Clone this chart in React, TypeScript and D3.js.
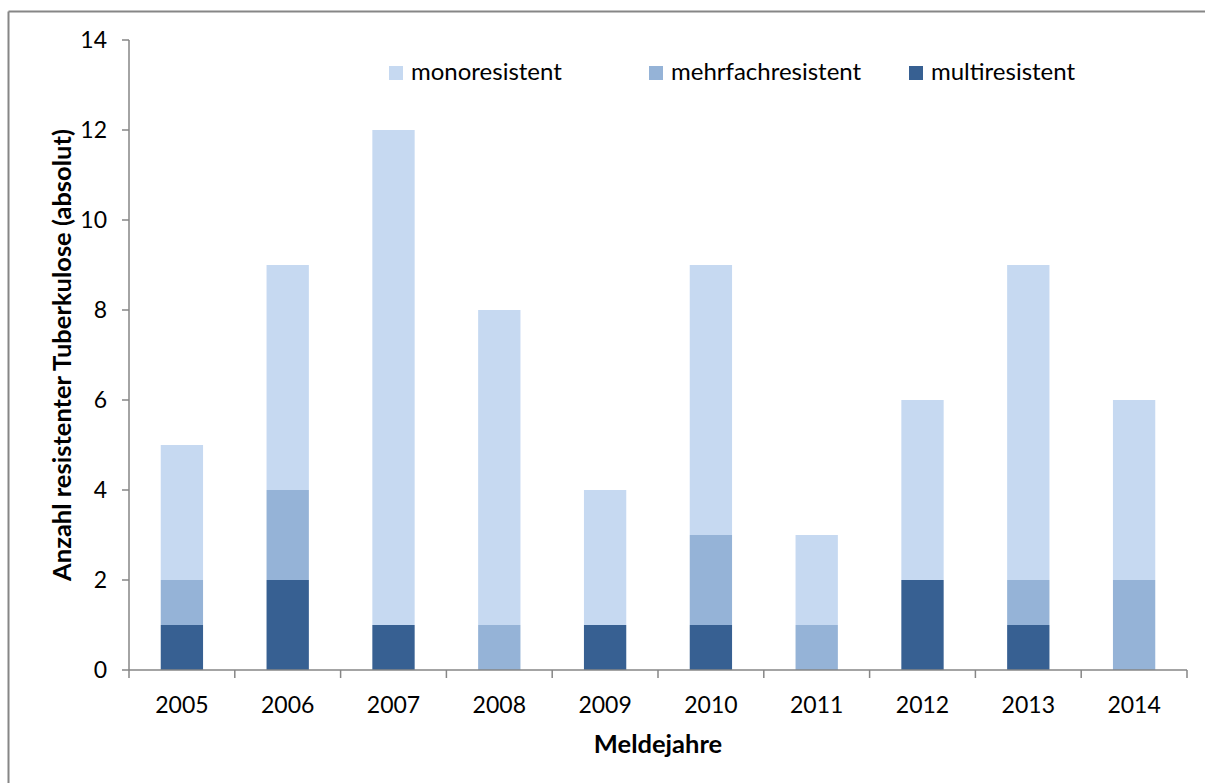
import React from "react";
import * as d3 from "d3";

const years = ["2005", "2006", "2007", "2008", "2009", "2010", "2011", "2012", "2013", "2014"];
const multiresistent = [1, 2, 1, 0, 1, 1, 0, 2, 1, 0];
const mehrfachresistent = [1, 2, 0, 1, 0, 2, 1, 0, 1, 2];
const monoresistent = [3, 5, 11, 7, 3, 6, 2, 4, 7, 4];
const yTicks = [0, 2, 4, 6, 8, 10, 12, 14];

const seriesKeys = ["multiresistent", "mehrfachresistent", "monoresistent"];
const colors: Record<string, string> = {
  monoresistent: "#C6D9F1",
  mehrfachresistent: "#95B3D7",
  multiresistent: "#376092",
};
const legendOrder = ["monoresistent", "mehrfachresistent", "multiresistent"];

const FONT = "Lato, 'Open Sans', sans-serif";

export default function App() {
  const W = 1205, H = 783;
  const x0 = 129, x1 = 1187, yTop = 40, yBot = 670;
  const rows = years.map((y, i) => ({
    year: y,
    multiresistent: multiresistent[i],
    mehrfachresistent: mehrfachresistent[i],
    monoresistent: monoresistent[i],
  }));
  const stack = d3.stack<any>().keys(seriesKeys)(rows);
  const x = d3.scaleBand().domain(years).range([x0, x1]).paddingInner(0.6).paddingOuter(0.3);
  const y = d3.scaleLinear().domain([0, 14]).range([yBot, yTop]);
  const step = (x1 - x0) / years.length;
  const axisColor = "#868686";

  return (
    <svg width={W} height={H} style={{ position: "absolute", left: 0, top: 0, overflow: "hidden", display: "block" }}>
      <rect x={0} y={0} width={W} height={H} fill="#fff" />
      <line x1={8.5} x2={W} y1={11.5} y2={11.5} stroke={axisColor} strokeWidth={2} />
      <line x1={8.5} x2={8.5} y1={11.5} y2={H} stroke={axisColor} strokeWidth={2} />
      {stack.map((s) => (
        <g key={s.key} fill={colors[s.key]}>
          {s.map((d, i) =>
            d[1] - d[0] > 0 ? (
              <rect
                key={i}
                x={x(years[i])}
                width={x.bandwidth()}
                y={y(d[1])}
                height={y(d[0]) - y(d[1])}
              />
            ) : null
          )}
        </g>
      ))}
      {/* y axis */}
      <line x1={x0} x2={x0} y1={yTop} y2={yBot} stroke={axisColor} strokeWidth={1.5} />
      {yTicks.map((t) => (
        <g key={t}>
          <line x1={x0 - 7} x2={x0} y1={y(t)} y2={y(t)} stroke={axisColor} strokeWidth={1.5} />
          <text x={107} y={y(t)} dy="0.36em" textAnchor="end" fontFamily={FONT} fontSize={23} fill="#000">
            {t}
          </text>
        </g>
      ))}
      {/* x axis */}
      <line x1={x0} x2={x1} y1={yBot} y2={yBot} stroke={axisColor} strokeWidth={1.5} />
      {d3.range(years.length + 1).map((i) => (
        <line key={i} x1={x0 + i * step} x2={x0 + i * step} y1={yBot} y2={yBot + 8} stroke={axisColor} strokeWidth={1.5} />
      ))}
      {years.map((yr) => (
        <text key={yr} x={(x(yr) as number) + x.bandwidth() / 2} y={713} textAnchor="middle" fontFamily={FONT} fontSize={23} fill="#000">
          {yr}
        </text>
      ))}
      <text x={(x0 + x1) / 2} y={753} textAnchor="middle" fontFamily={FONT} fontSize={25.5} fontWeight="bold" fill="#000">
        Meldejahre
      </text>
      <text
        transform={`translate(71, ${(yTop + yBot) / 2}) rotate(-90)`}
        textAnchor="middle"
        fontFamily={FONT}
        fontSize={25.5}
        fontWeight="bold"
        fill="#000"
      >
        Anzahl resistenter Tuberkulose (absolut)
      </text>
      {/* legend */}
      {legendOrder.map((k, i) => (
        <g key={k} transform={`translate(${389 + i * 260}, 0)`}>
          <rect x={0} y={66} width={14} height={14} fill={colors[k]} />
          <text x={22} y={80} fontFamily={FONT} fontSize={24} fill="#000">
            {k}
          </text>
        </g>
      ))}
    </svg>
  );
}
